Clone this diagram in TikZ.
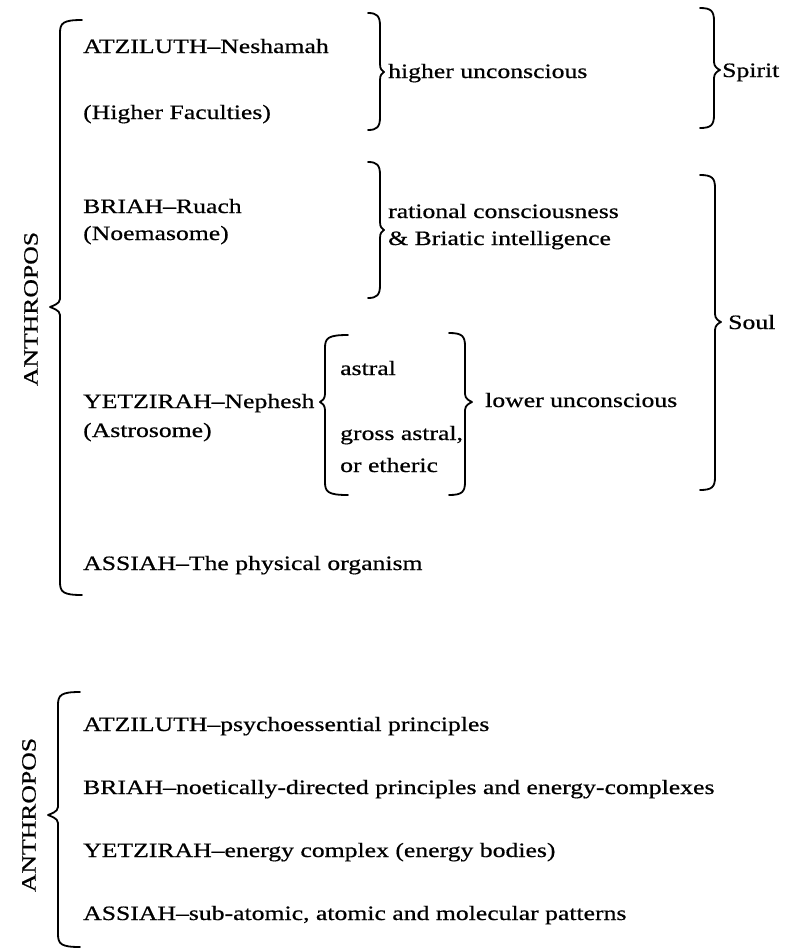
\documentclass[tikz,border=0pt]{standalone}
\usepackage{fontspec}
\setmainfont{Liberation Serif}[FakeStretch=1.26,FakeBold=0.6]
% right-facing brace: spine x, top y, bottom y, tip y, curl-end x, tip x
\newcommand{\RBr}[6]{%
  \draw[brc] (#5,#2) .. controls (#1-3,#2) and (#1,#2+3) .. (#1,#2+13)
    -- (#1,#4-8) .. controls (#1,#4-3) and (#6-2,#4-1) .. (#6,#4)
    .. controls (#6-2,#4+1) and (#1,#4+3) .. (#1,#4+8)
    -- (#1,#3-13) .. controls (#1,#3-3) and (#1-3,#3) .. (#5,#3);}
% left-facing brace
\newcommand{\LBr}[6]{%
  \draw[brc] (#5,#2) .. controls (#1+3,#2) and (#1,#2+3) .. (#1,#2+13)
    -- (#1,#4-8) .. controls (#1,#4-3) and (#6+2,#4-1) .. (#6,#4)
    .. controls (#6+2,#4+1) and (#1,#4+3) .. (#1,#4+8)
    -- (#1,#3-13) .. controls (#1,#3-3) and (#1+3,#3) .. (#5,#3);}
\begin{document}
\begin{tikzpicture}[x=1pt,y=-1pt,
  brc/.style={line width=1.8pt,line cap=round,line join=round},
  txt/.style={anchor=base west,inner sep=0pt,font=\fontsize{20.4}{24}\selectfont},
  vtxt/.style={anchor=center,inner sep=0pt,rotate=90,font=\fontsize{20.4}{24}\selectfont}]
\fill[white] (0,0) rectangle (785,951);
\useasboundingbox (0,0) rectangle (785,951);

% ---------- upper scheme ----------
\node[vtxt] (anth1) at (31,309) {ANTHROPOS};
\LBr{60}{20}{595}{307}{82}{50}

\node[txt] (atz)  at (83,53)  {ATZILUTH–Neshamah};
\node[txt] (hf)   at (83,119) {(Higher Faculties)};
\node[txt] (bri)  at (83,213) {BRIAH–Ruach};
\node[txt] (noe)  at (83,240) {(Noemasome)};
\node[txt] (yet)  at (83,408) {YETZIRAH–Nephesh};
\node[txt] (ast)  at (83,437) {(Astrosome)};
\node[txt] (ass)  at (83,570) {ASSIAH–The physical organism};

\RBr{380}{13}{130}{72}{368}{384}
\node[txt] (hu) at (388,78) {higher unconscious};

\RBr{380}{162}{298}{230}{368}{384}
\node[txt] (rc) at (388,218) {rational consciousness};
\node[txt] (bi) at (388,245) {\& Briatic intelligence};

\LBr{325}{335}{495}{402}{348}{320}
\node[txt] (astr) at (340,375) {astral};
\node[txt] (gro)  at (340,440) {gross astral,};
\node[txt] (eth)  at (340,472) {or etheric};
\RBr{465}{333}{495}{402}{449}{472}
\node[txt] (lu) at (485,407) {lower unconscious};

\RBr{714}{8}{128}{70}{700}{720}
\node[txt] (spi) at (722,77) {Spirit};

\RBr{715}{175}{490}{322}{700}{721}
\node[txt] (soul) at (728,329) {Soul};

% ---------- lower scheme ----------
\node[vtxt] (anth2) at (29,815) {ANTHROPOS};
\LBr{58}{692}{947}{815}{80}{48}
\node[txt] (a2) at (83,731) {ATZILUTH–psychoessential principles};
\node[txt] (b2) at (83,794) {BRIAH–noetically-directed principles and energy-complexes};
\node[txt] (y2) at (83,857) {YETZIRAH–energy complex (energy bodies)};
\node[txt] (s2) at (83,920) {ASSIAH–sub-atomic, atomic and molecular patterns};
\end{tikzpicture}
\end{document}
